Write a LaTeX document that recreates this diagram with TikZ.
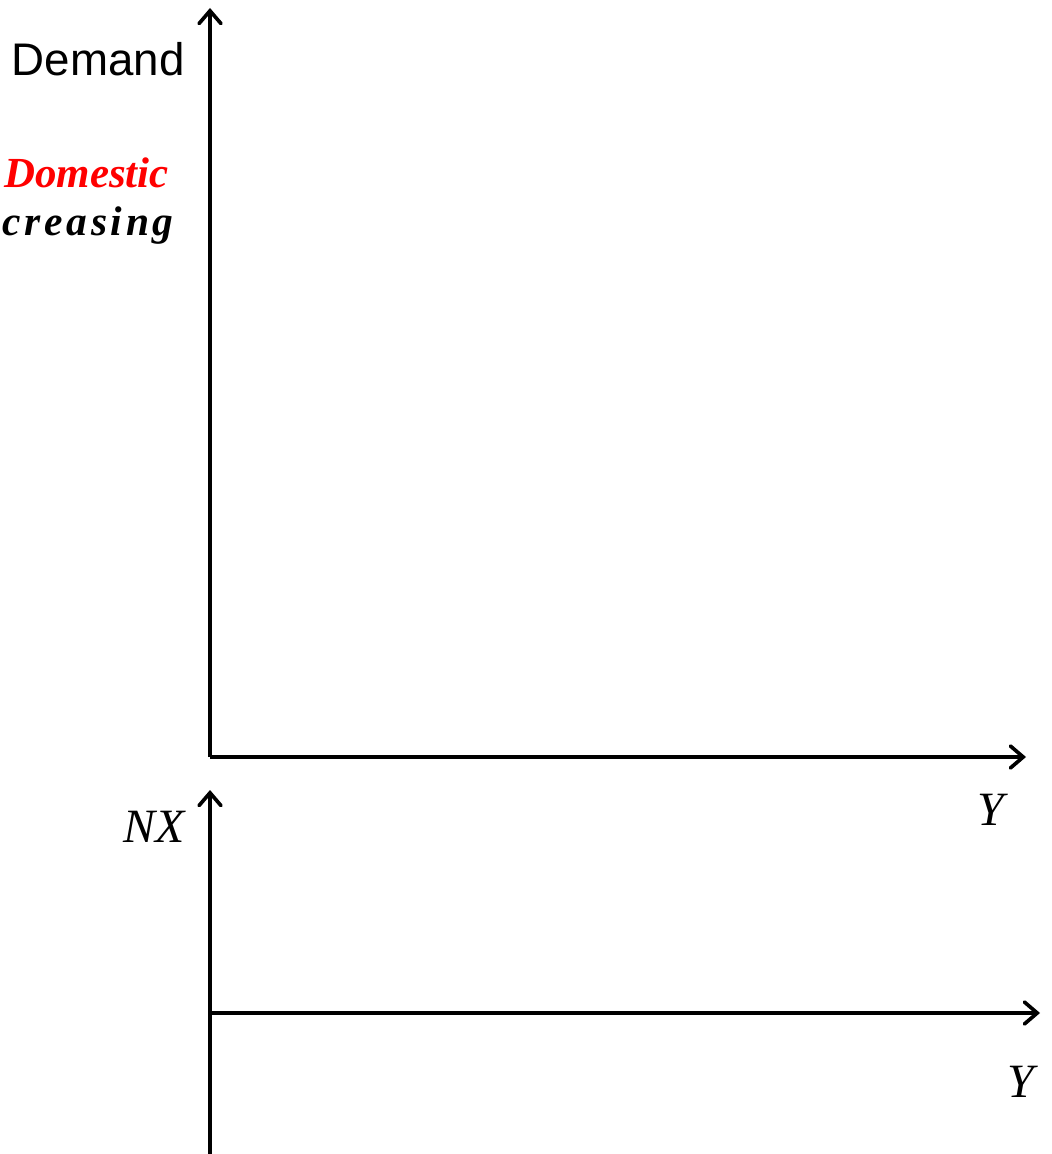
\documentclass[tikz,border=0pt]{standalone}
\usepackage{fontspec}
\setmainfont{Liberation Serif}
\newfontfamily\labelsans{Liberation Sans}
\newfontfamily\spacedserif[LetterSpace=9]{Liberation Serif}
\usetikzlibrary{arrows.meta}
\definecolor{Ink}{HTML}{000000}
\definecolor{Red}{HTML}{FF0000}

\begin{document}
\begin{tikzpicture}[x=0.025cm, y=-0.025cm,
      axis/.style={draw=Ink, line width=2.6pt, -{Straight Barb[length=3.2mm, width=5.5mm, line cap=round]}},
      plain/.style={draw=Ink, line width=2.6pt},
      lbl/.style={inner sep=0pt, anchor=base east},
      varlbl/.style={inner sep=0pt, anchor=base, font=\fontsize{34}{40}\selectfont\itshape}]

    \useasboundingbox (0,0) rectangle (1051,1154);

    % upper diagram
    \coordinate (o1) at (210,757);
    \coordinate (ytop1) at (210,8);
    \coordinate (xend1) at (1026,757);
    \draw[axis] (o1) -- (ytop1);
    \draw[axis] (o1) -- (xend1);

    \node[lbl, font=\labelsans\fontsize{32.5}{38}\selectfont] (dem) at (185,76) {Demand};
    \node[lbl, text=Red, font=\fontsize{30.5}{36}\selectfont\bfseries\itshape] (dom) at (169,188) {Domestic};
    \node[lbl, font=\spacedserif\fontsize{29.5}{34}\selectfont\bfseries\itshape] (inc) at (174,236) {creasing};
    \node[varlbl] (y1) at (991,825) {Y};

    % lower diagram
    \coordinate (o2) at (210,1013);
    \coordinate (ybot2) at (210,1154);
    \coordinate (ytop2) at (210,790);
    \coordinate (xend2) at (1040,1013);
    \draw[plain] (ybot2) -- (o2);
    \draw[axis] (o2) -- (ytop2);
    \draw[axis] (o2) -- (xend2);

    \node[lbl, font=\fontsize{34}{40}\selectfont\itshape] (nx) at (185,842) {NX};
    \node[varlbl] (y2) at (1021,1097) {Y};
  \end{tikzpicture}
\end{document}
